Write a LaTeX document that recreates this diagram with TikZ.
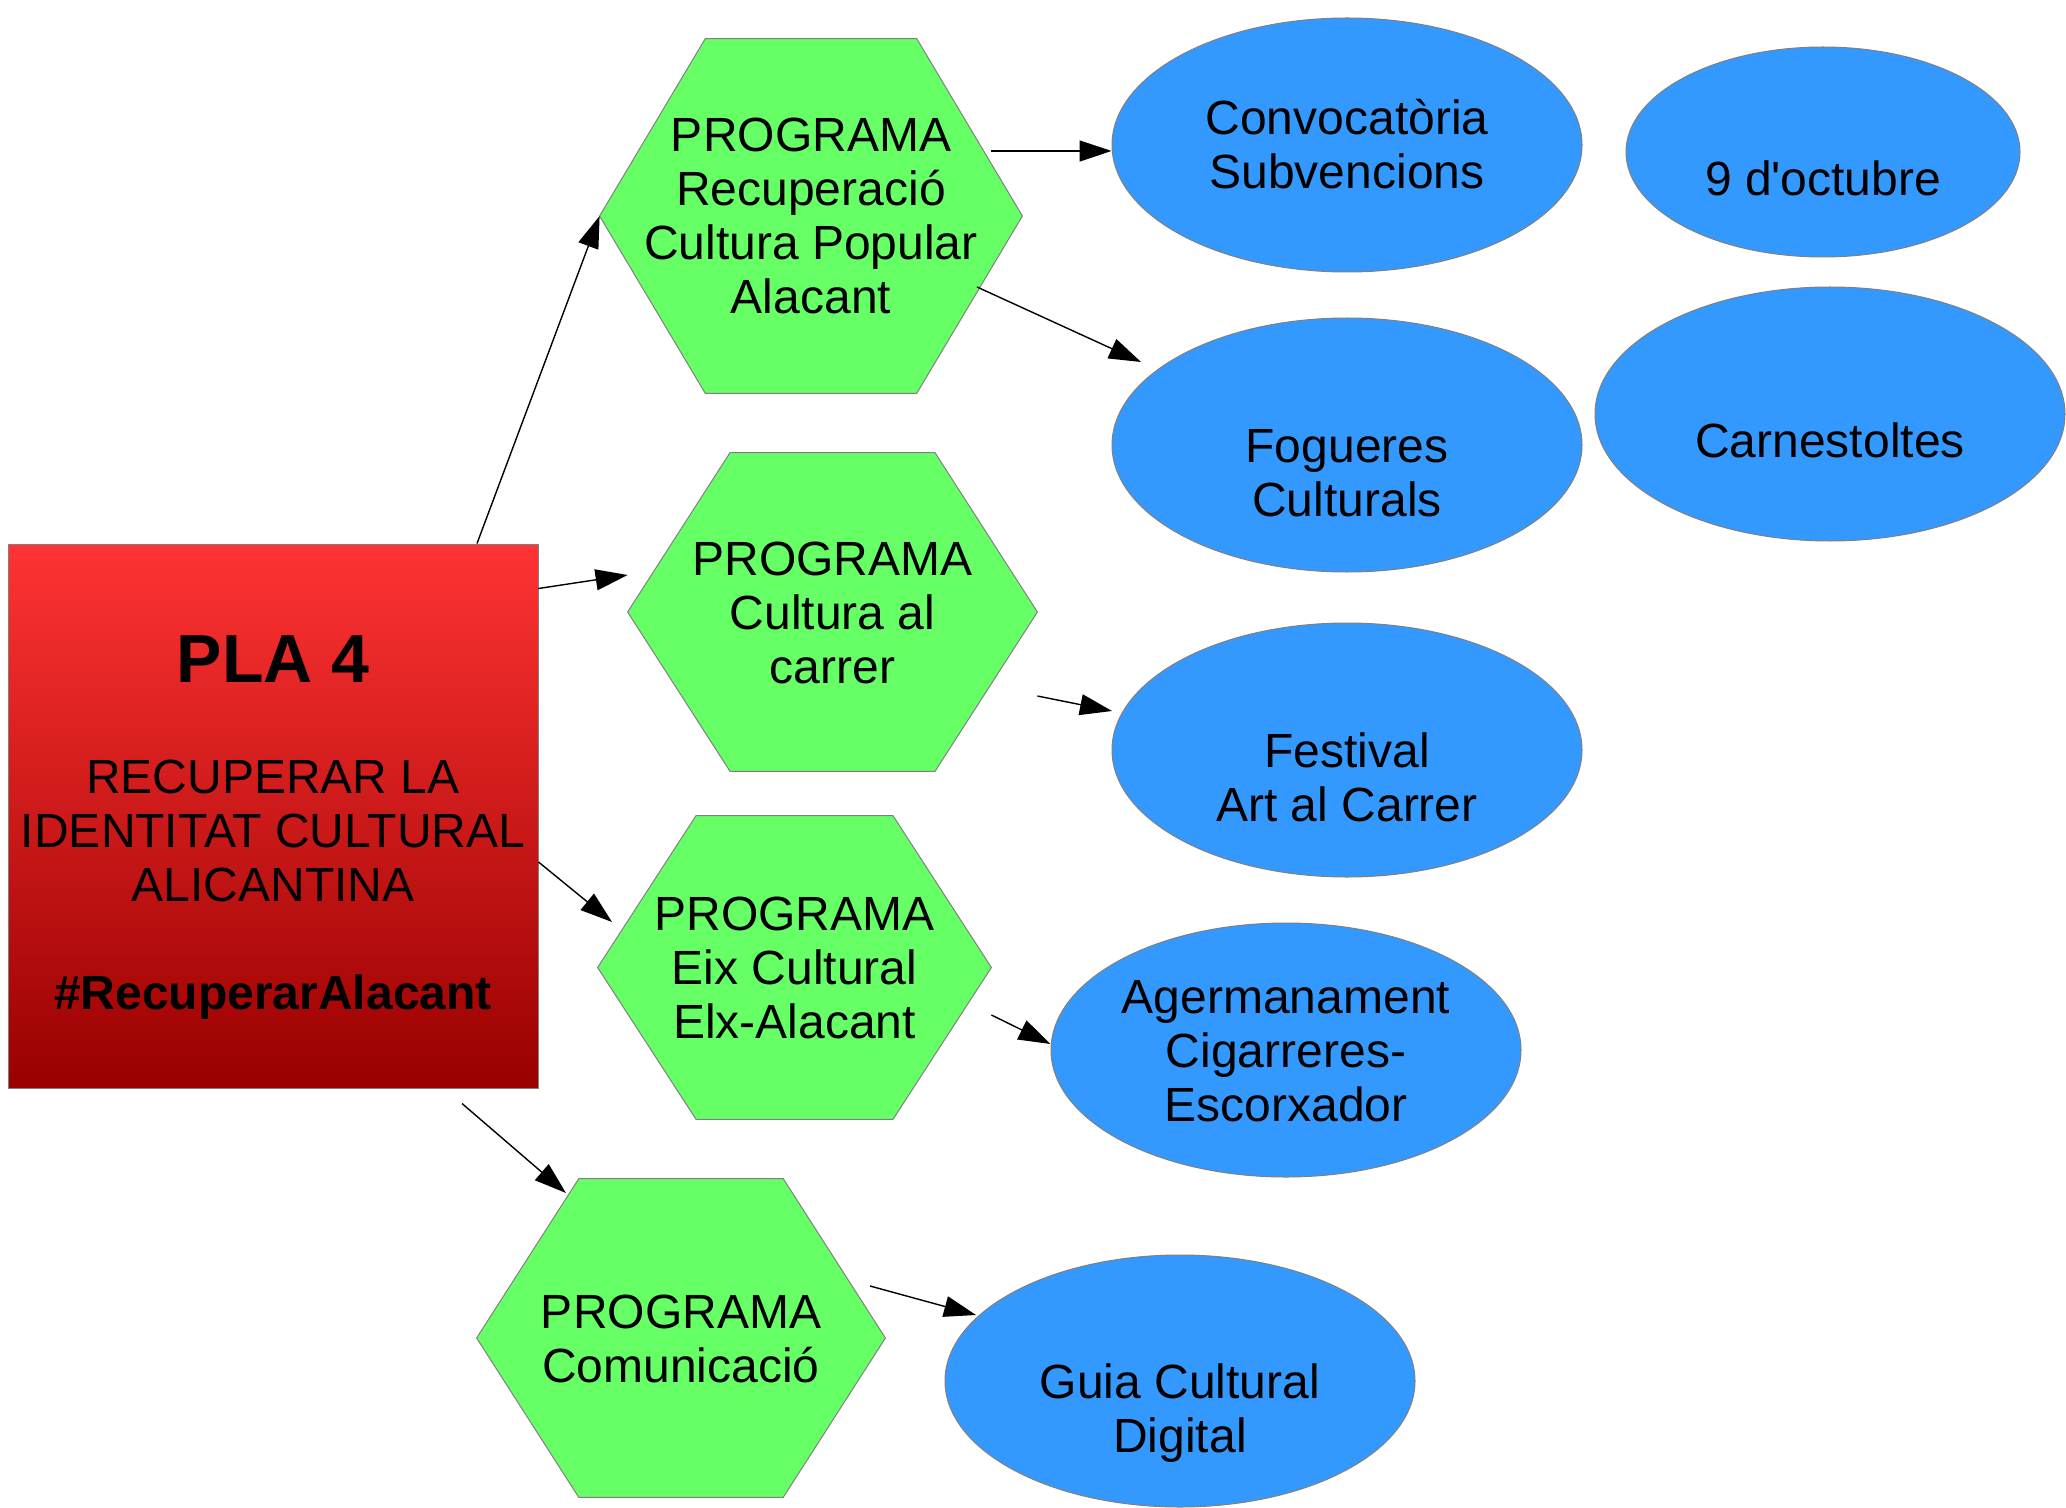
\documentclass[tikz,border=0pt]{standalone}
\usepackage{fontspec}
\setmainfont{Liberation Sans}[Ligatures=TeXOff]
\usetikzlibrary{calc,shapes.geometric,arrows.meta,backgrounds}

\definecolor{hexgreen}{RGB}{102,255,102}
\definecolor{ellblue}{RGB}{51,153,255}
\definecolor{redtop}{RGB}{255,51,51}
\definecolor{redbot}{RGB}{153,0,0}
\definecolor{edgegray}{RGB}{128,128,128}

\newcommand\ls{\vrule height 22pt depth 5pt width 0pt\relax}
\newcommand\lsbig{\vrule height 35pt depth 7.5pt width 0pt\relax}
\newcommand\diagfont{\fontsize{24pt}{27pt}\selectfont\lineskiplimit -40pt\relax\lineskip 0pt\relax}
\newcommand\bigfont{\fontsize{34pt}{34pt}\selectfont\bfseries}
\newcommand\hexpath[1]{(#1.west) -- ($(#1.north west)!0.25!(#1.north east)$) -- ($(#1.north west)!0.75!(#1.north east)$) -- (#1.east) -- ($(#1.south west)!0.75!(#1.south east)$) -- ($(#1.south west)!0.25!(#1.south east)$) -- cycle}

\tikzset{
  basefont/.style={font=\diagfont},
  redbox/.style={rectangle, basefont, top color=redtop, bottom color=redbot, draw=edgegray, line width=0.5pt, minimum width=265pt, minimum height=272pt, inner sep=0pt, align=center},
  hexbox/.style={rectangle, basefont, inner sep=0pt, align=center},
  hexfill/.style={fill=hexgreen, draw=edgegray, line width=0.5pt},
  ellnode/.style={ellipse, basefont, fill=ellblue, draw=edgegray, line width=0.5pt, inner sep=0pt, align=center, minimum width=235pt, minimum height=127pt},
  arr/.style={-{Triangle[length=16pt,width=10.5pt]}, line width=0.7pt, black}
}

\begin{document}
\begin{tikzpicture}[x=0.5pt, y=-0.5pt]
\useasboundingbox (0,0) rectangle (2066,1508);

% main box
\node[redbox] (red) at (273,816) {\lsbig\bigfont PLA 4\\[1.5pt]\ls\\\ls RECUPERAR LA\\\ls IDENTITAT CULTURAL\\\ls ALICANTINA\\\ls\\\ls\textbf{\#RecuperarAlacant}};

% programme hexagons (text nodes; outlines on background)
\node[hexbox, minimum width=211pt, minimum height=177pt] (h1) at (811,216) {\ls PROGRAMA\\\ls Recuperació\\\ls Cultura Popular\\\ls Alacant};
\node[hexbox, minimum width=204.5pt, minimum height=159pt] (h2) at (832.5,612) {\ls PROGRAMA\\\ls Cultura al\\\ls carrer};
\node[hexbox, minimum width=196.5pt, minimum height=151.5pt] (h3) at (794.5,967.5) {\ls PROGRAMA\\\ls Eix Cultural\\\ls Elx-Alacant};
\node[hexbox, minimum width=204pt, minimum height=159pt] (h4) at (681,1338) {\ls PROGRAMA\\\ls Comunicació};

\begin{scope}[on background layer]
  \filldraw[hexfill] \hexpath{h1};
  \filldraw[hexfill] \hexpath{h2};
  \filldraw[hexfill] \hexpath{h3};
  \filldraw[hexfill] \hexpath{h4};
\end{scope}

% actions
\node[ellnode] (e1) at (1347,145) {\ls Convocatòria\\\ls Subvencions};
\node[ellnode, minimum width=197pt, minimum height=105pt] (e2) at (1823,152) {\ls\\\ls 9 d'octubre};
\node[ellnode] (e3) at (1347,445) {\ls\\\ls Fogueres\\\ls Culturals};
\node[ellnode] (e4) at (1830,414) {\ls\\\ls Carnestoltes};
\node[ellnode] (e5) at (1347,750) {\ls\\\ls Festival\\\ls Art al Carrer};
\node[ellnode] (e6) at (1286,1050) {\ls Agermanament\\\ls Cigarreres-\\\ls Escorxador};
\node[ellnode, minimum height=126pt] (e7) at (1180,1381) {\ls\\\ls Guia Cultural\\\ls Digital};

% connectors
\draw[arr] ($(red.north)+(204,0)$) -- (h1.west);
\draw[arr] ($(red.north east)+(0,45)$) -- ($(h2.west)+(0,-37)$);
\draw[arr] ($(red.east)+(0,46)$) -- ($(h3.center)+(-182.5,-45.5)$);
\draw[arr] ($(red.south)+(189,15)$) -- ($(h4.center)+(-115,-145)$);
\draw[arr] ($(h1.center)+(180,-65)$) -- ($(e1.west)+(0,6)$);
\draw[arr] ($(h1.center)+(166,71)$) -- ($(e3.center)+(-206,-83)$);
\draw[arr] ($(h2.east)+(0,84)$) -- ($(e5.center)+(-235,-39)$);
\draw[arr] ($(h3.east)+(0,47.5)$) -- ($(e6.west)+(0,-6)$);
\draw[arr] ($(h4.center)+(189,-52)$) -- ($(e7.center)+(-204,-66)$);
\end{tikzpicture}
\end{document}
